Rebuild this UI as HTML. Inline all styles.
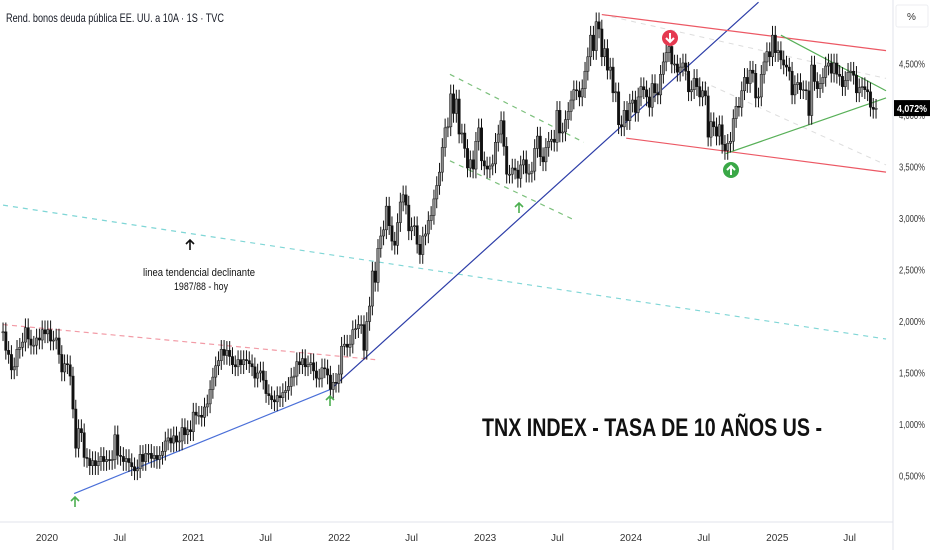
<!DOCTYPE html>
<html><head><meta charset="utf-8"><style>
html,body{margin:0;padding:0;background:#fff;}
svg{display:block;font-family:"Liberation Sans",sans-serif;}
</style></head><body>
<svg id="chart" width="932" height="550" viewBox="0 0 932 550" xmlns="http://www.w3.org/2000/svg">
<rect width="932" height="550" fill="#fff"/>
<g id="lines"></g>
<g id="candles"></g>
<g id="annot"></g>
<g id="axes"></g>
</svg>
<script>
// weekly closes starting Sep 13 2019
const startDate = "2019-09-13";
const closes = [1.90,1.72,1.68,1.53,1.56,1.73,1.75,1.80,
1.94,1.83,1.77,1.77,1.84,1.82,1.92,1.88,1.92,
1.81,1.82,1.84,1.68,1.51,1.59,1.58,1.47,1.15,0.77,0.96,0.92,0.68,0.67,0.60,0.65,0.60,0.64,
0.69,0.64,0.66,0.65,0.66,0.90,0.70,0.69,0.64,0.67,0.63,0.59,0.55,0.57,0.71,0.64,0.72,
0.72,0.67,0.70,0.66,0.70,0.74,0.84,0.87,0.82,0.89,0.83,0.84,0.97,0.90,0.95,0.93,
1.12,1.09,1.09,1.07,1.17,1.20,1.34,1.46,1.57,1.62,1.73,1.67,1.72,1.66,1.58,1.56,1.63,
1.58,1.63,1.62,1.59,1.56,1.45,1.50,1.52,1.43,1.30,1.28,1.24,1.22,1.28,1.26,1.31,
1.33,1.37,1.46,1.47,1.61,1.58,1.64,1.56,1.58,1.60,1.52,1.45,1.45,1.55,1.54,1.48,1.34,1.41,1.40,1.49,
1.76,1.78,1.75,1.78,1.92,1.93,1.97,1.97,1.72,2.00,2.15,2.49,2.38,2.71,2.83,2.89,
3.12,2.93,2.78,2.74,2.96,3.16,3.23,3.13,2.88,2.92,2.93,2.75,2.65,2.83,2.85,2.98,3.03,
3.19,3.32,3.45,3.69,3.88,3.89,4.21,4.02,4.16,3.82,3.83,3.68,3.49,3.57,3.48,3.75,3.88,
3.56,3.51,3.48,3.51,3.53,3.74,3.82,3.95,3.70,3.43,3.43,3.49,3.47,3.39,3.52,3.57,3.44,
3.44,3.46,3.68,3.80,3.60,3.55,3.69,3.75,3.77,3.74,4.05,3.83,3.84,3.96,4.04,4.15,4.25,4.24,
4.18,4.26,4.43,4.57,4.78,4.63,4.91,4.84,4.57,4.65,4.44,4.47,4.22,4.23,3.91,3.89,
4.05,3.95,4.12,4.15,4.03,4.18,4.28,4.25,4.18,4.08,4.31,4.22,4.20,4.40,4.52,4.61,4.67,
4.50,4.50,4.42,4.47,4.51,4.43,4.23,4.25,4.36,4.28,4.18,4.24,4.19,3.79,3.94,3.89,3.80,
3.91,3.72,3.66,3.73,3.75,3.97,4.09,4.08,4.24,4.37,4.31,4.44,4.41,4.17,4.18,4.40,4.52,4.62,
4.57,4.78,4.61,4.63,4.54,4.49,4.47,4.43,4.20,4.30,4.32,4.25,4.25,4.24,4.00,4.49,4.33,4.26,
4.31,4.37,4.48,4.51,4.41,4.51,4.40,4.38,4.28,4.34,4.42,4.43,4.39,4.22,4.27,4.28,4.25,4.23,
4.08,4.06,4.07];
const yTicks = [0.5,1.0,1.5,2.0,2.5,3.0,3.5,4.0,4.5];
const yTickLabels = ["0,500%","1,000%","1,500%","2,000%","2,500%","3,000%","3,500%","4,000%","4,500%"];
const xTicks = ["2020-01-01","2020-07-01","2021-01-01","2021-07-01","2022-01-01","2022-07-01","2023-01-01","2023-07-01","2024-01-01","2024-07-01","2025-01-01","2025-07-01"];
const xTickLabels = ["2020","Jul","2021","Jul","2022","Jul","2023","Jul","2024","Jul","2025","Jul"];
const lastValue = 4.072;
const lastLabel = "4,072%";
// trend annotations: [date, value] pairs
const redTop = [["2023-10-20",4.98],["2025-09-30",4.63]];
const redBot = [["2023-12-20",3.78],["2025-09-30",3.45]];
const greenTop = [["2025-01-10",4.78],["2025-09-30",4.24]];
const greenBot = [["2024-08-25",3.63],["2025-09-30",4.17]];
const blueLow = [["2020-03-09",0.33],["2021-12-10",1.34]];
const blueHigh = [["2021-12-10",1.34],["2024-11-15",5.10]];
const pinkDash = [["2019-09-13",1.97],["2022-04-01",1.63]];
const cyanDash = [["2019-09-13",3.13],["2025-09-30",1.83]];
const greenDashA = [["2022-10-05",4.40],["2023-09-05",3.74]];
const greenDashB = [["2022-10-05",3.56],["2023-08-10",2.99]];
const greyDashA = [["2023-10-20",4.98],["2025-09-30",4.36]];
const greyDashB = [["2024-04-20",4.45],["2025-09-30",3.52]];

const NS="http://www.w3.org/2000/svg";
const T0=Date.parse("2020-01-01"), YR=365.25*864e5;
function xs(d){return 47+(Date.parse(d)-T0)/YR*146;}
function xt(t){return 47+(t-T0)/YR*146;}
function ys(v){return 476-(v-0.5)*103;}
function mk(tag,attrs,parent){const e=document.createElementNS(NS,tag);for(const k in attrs)e.setAttribute(k,attrs[k]);parent.appendChild(e);return e;}
const gL=document.getElementById('lines'),gC=document.getElementById('candles'),gA=document.getElementById('annot'),gX=document.getElementById('axes');

function seg(p,color,dash,name,w){
  const l=mk('line',{x1:xs(p[0][0]),y1:ys(p[0][1]),x2:xs(p[1][0]),y2:ys(p[1][1]),stroke:color,'stroke-width':w||1.2,'stroke-dasharray':dash||'none'},gL);
  
  
}
seg(cyanDash,"#7fd6d6","5,5","declining-trendline");
seg(pinkDash,"#f29ba6","5,4","resistance-line");
seg(greyDashA,"#ddd","5,5","channel-mid-a",1);
seg(greyDashB,"#ddd","5,5","channel-mid-b",1);
seg(greenDashA,"#7cc07c","5,5","flag-top");
seg(greenDashB,"#7cc07c","5,5","flag-bottom");
seg(blueLow,"#4a6fd8","","uptrend-line-low");
seg(blueHigh,"#2d3ea8","","uptrend-line-high");
seg(redTop,"#ec5864","","channel-top");
seg(redBot,"#ec5864","","channel-bottom");
seg(greenTop,"#58b058","","triangle-top");
seg(greenBot,"#58b058","","triangle-bottom");

const t0=Date.parse(startDate);
for(let i=0;i<closes.length;i++){
  const c=closes[i], o=i>0?closes[i-1]:c;
  const hi=Math.max(o,c)+0.09, lo=Math.min(o,c)-0.09;
  const x=xt(t0+i*7*864e5);
  if(x>890)continue;
  const up=c>=o;
  const w=mk('line',{x1:x,x2:x,y1:ys(hi),y2:ys(lo),stroke:'#111','stroke-width':1},gC);
  
  
  const top=ys(Math.max(o,c)),bh=Math.max(1,ys(Math.min(o,c))-top);
  const b=mk('rect',{x:x-1.2,y:top,width:2.4,height:bh,fill:up?'#8a8a8a':'#111',stroke:'#111','stroke-width':0.5},gC);
  
  
}

function arrow(x,y,color,name){
  const p=mk('path',{d:`M${x} ${y+10}V${y}M${x-4} ${y+4}L${x} ${y}L${x+4} ${y+4}`,stroke:color,'stroke-width':1.6,fill:'none'},gA);
  
  
}
arrow(75,497,"#4caf50","arrow-2020-low");
arrow(330,396,"#4caf50","arrow-2021-low");
arrow(519,203,"#4caf50","arrow-2023-low");
arrow(190,240,"#111","arrow-trendline");
function circ(x,y,color,down,name){
  const g=mk('g',{},gA);
  
  
  mk('circle',{cx:x,cy:y,r:8,fill:color},g);
  const d=down?`M${x} ${y-5}V${y+4}M${x-4} ${y}L${x} ${y+4}L${x+4} ${y}`:`M${x} ${y+5}V${y-4}M${x-4} ${y}L${x} ${y-4}L${x+4} ${y}`;
  mk('path',{d:d,stroke:'#fff','stroke-width':2,fill:'none'},g);
}
circ(670,38,"#e53950",true,"sell-signal");
circ(731,170,"#3aa847",false,"buy-signal");

function txt(s,x,y,attrs,name,parent){
  const t=mk('text',Object.assign({x:x,y:y},attrs),parent||gA);
  t.textContent=s;
  
  
  return t;
}
txt("linea tendencial declinante",199,276,{'font-size':11,'text-anchor':'middle',textLength:112,lengthAdjust:'spacingAndGlyphs',fill:'#111'},"annotation-line1");
txt("1987/88 - hoy",201,290,{'font-size':11,'text-anchor':'middle',textLength:54,lengthAdjust:'spacingAndGlyphs',fill:'#111'},"annotation-line2");
txt("TNX INDEX - TASA DE 10 AÑOS US -",482,436,{'font-size':25,'font-weight':'bold',textLength:340,lengthAdjust:'spacingAndGlyphs',fill:'#111'},"big-title");
txt("Rend. bonos deuda pública EE. UU. a 10A · 1S · TVC",6,22,{'font-size':12,textLength:218,lengthAdjust:'spacingAndGlyphs',fill:'#131722'},"chart-title");

// axes
let a=mk('line',{x1:893,x2:893,y1:0,y2:550,stroke:'#e0e3eb'},gX);
a=mk('line',{x1:0,x2:893,y1:522,y2:522,stroke:'#e0e3eb'},gX);
a=mk('rect',{x:896,y:5,width:32,height:22,fill:'#fff',stroke:'#eceef2',rx:2},gX);
txt("%",907,20,{'font-size':10,fill:'#333'},"unit-label",gX);
yTicks.forEach((v,i)=>{txt(yTickLabels[i],899,ys(v)+3.5,{'font-size':10,textLength:26,lengthAdjust:'spacingAndGlyphs',fill:'#333'},"y-tick-label",gX);});
xTicks.forEach((d,i)=>{txt(xTickLabels[i],xs(d),541,{'font-size':10,'text-anchor':'middle',fill:'#333'},"x-tick-label",gX);});
a=mk('rect',{x:894,y:ys(lastValue)-8,width:36,height:16,fill:'#000'},gX);
txt(lastLabel,897,ys(lastValue)+4,{'font-size':10,'font-weight':'bold',textLength:30,lengthAdjust:'spacingAndGlyphs',fill:'#fff'},"last-price-label",gX);
</script>
</body></html>
